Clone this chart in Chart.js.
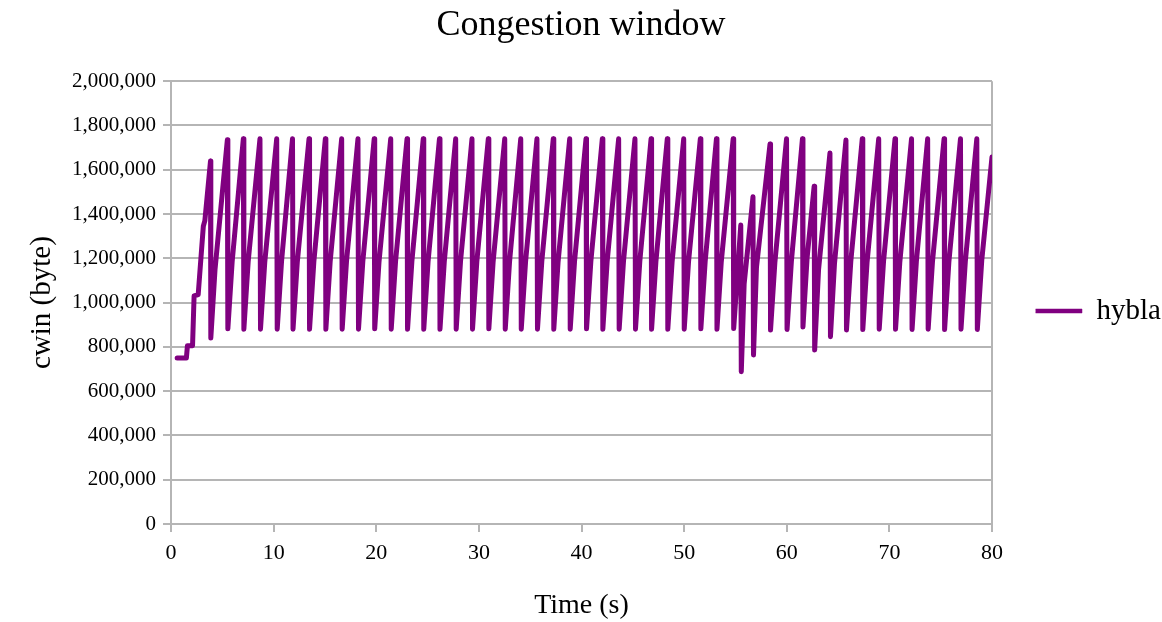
<!DOCTYPE html>
<html>
<head>
<meta charset="utf-8">
<script src="https://cdn.jsdelivr.net/npm/chart.js@4.4.1/dist/chart.umd.min.js"></script>
<style>
html,body{margin:0;padding:0;background:#fff}
#wrap{width:1162px;height:622px}
</style>
</head>
<body>
<div id="wrap"><canvas id="cwinChart"></canvas></div>
<script>
// time (s) and cwin (byte), one pair per vertex
const times=[
 0.6,1.5,1.6,2.1,2.25,2.65,3.15,3.3,3.85,3.88,4.29,
 5.49,5.54,5.96, 7.05,7.10,7.52, 8.67,8.72,9.14, 10.30,10.35,10.77,
 11.84,11.89,12.31, 13.45,13.50,13.92, 15.04,15.09,15.51, 16.63,16.68,17.10,
 18.22,18.27,18.69, 19.80,19.85,20.27, 21.41,21.46,21.88, 23.00,23.05,23.47,
 24.58,24.63,25.05, 26.16,26.21,26.63, 27.74,27.79,28.21, 29.33,29.38,29.80,
 30.92,30.97,31.39, 32.52,32.57,32.99, 34.08,34.13,34.55, 35.66,35.71,36.13,
 37.25,37.30,37.72, 38.85,38.90,39.32, 40.44,40.49,40.91, 42.03,42.08,42.50,
 43.62,43.67,44.09, 45.21,45.26,45.68, 46.78,46.83,47.25, 48.36,48.41,48.83,
 49.96,50.01,50.43, 51.58,51.63,52.05, 53.15,53.20,53.62, 54.78,54.83,
 55.52,55.57,55.85, 56.71,56.76,57.05, 58.37,58.42,58.84, 59.98,60.03,60.45,
 61.53,61.58,61.98, 62.67,62.72,63.10, 64.21,64.26,64.65, 65.77,65.82,66.24,
 67.36,67.41,67.83, 68.96,69.01,69.43, 70.55,70.60,71.02, 72.16,72.21,72.63,
 73.73,73.78,74.20, 75.33,75.38,75.80, 76.93,76.98,77.40, 78.52,78.57,79.00,
 80.00
];
const cwin=[
 750000,750000,805000,805000,1030000,1036000,1345000,1370000,1640000,840000,1150000,
 1735000,882000,1185000, 1740000,880000,1185000, 1740000,880000,1185000, 1740000,880000,1185000,
 1740000,880000,1185000, 1740000,880000,1185000, 1740000,880000,1185000, 1740000,880000,1185000,
 1740000,880000,1185000, 1740000,882000,1185000, 1740000,880000,1185000, 1740000,880000,1185000,
 1740000,880000,1185000, 1740000,880000,1185000, 1740000,880000,1185000, 1740000,880000,1185000,
 1740000,882000,1185000, 1740000,880000,1185000, 1740000,880000,1185000, 1740000,880000,1185000,
 1740000,880000,1185000, 1740000,880000,1185000, 1740000,882000,1185000, 1740000,880000,1185000,
 1740000,880000,1185000, 1740000,880000,1185000, 1740000,880000,1185000, 1740000,880000,1185000,
 1740000,880000,1185000, 1740000,882000,1185000, 1740000,880000,1185000, 1740000,883000,
 1350000,688000,1085000, 1478000,763000,1160000, 1716000,876000,1180000, 1740000,878000,1185000,
 1740000,890000,1200000, 1526000,786000,1150000, 1676000,846000,1175000, 1734000,876000,1185000,
 1740000,878000,1185000, 1740000,880000,1185000, 1740000,880000,1185000, 1740000,878000,1185000,
 1740000,880000,1185000, 1740000,878000,1185000, 1740000,880000,1185000, 1740000,878000,1190000,
 1658000
];
const seriesName='hybla';
const xTicks={min:0,max:80,step:10};
const yTicks={min:0,max:2000000,step:200000};

const GRID='#b5b5b5', PURPLE='#800080';
Chart.defaults.font.family="'Liberation Serif', serif";
Chart.defaults.color='#000';

new Chart(cwinChart,{
 type:'line',
 data:{datasets:[{
  label:seriesName,
  data:times.map((t,i)=>({x:t,y:cwin[i]})),
  borderColor:PURPLE,backgroundColor:PURPLE,
  borderWidth:5,pointRadius:0,tension:0,
  borderJoinStyle:'round',borderCapStyle:'round'
 }]},
 options:{
  responsive:true,maintainAspectRatio:false,animation:false,
  layout:{padding:0},
  plugins:{
   title:{display:true,text:'Congestion window',font:{size:36,weight:'normal'},padding:{top:4,bottom:34}},
   legend:{position:'right',maxWidth:170,labels:{
    boxWidth:46,boxHeight:4,padding:44,font:{size:29},
    generateLabels:c=>Chart.defaults.plugins.legend.labels.generateLabels(c).map(l=>Object.assign(l,{lineWidth:0.5}))
   }},
   tooltip:{enabled:false}
  },
  scales:{
   x:{type:'linear',min:xTicks.min,max:xTicks.max,
    ticks:{stepSize:xTicks.step,font:{size:22},padding:8},
    grid:{color:c=>c.tick&&c.tick.value===xTicks.max?GRID:'rgba(0,0,0,0)',tickColor:GRID,lineWidth:2,tickLength:8},
    border:{color:GRID,width:2},
    title:{display:true,text:'Time (s)',font:{size:28},padding:{top:0,bottom:0}},
    afterFit:s=>{s.height=98;s.paddingRight=170}
   },
   y:{min:yTicks.min,max:yTicks.max,
    ticks:{stepSize:yTicks.step,font:{size:21},padding:7,callback:v=>v.toLocaleString('en-US')},
    grid:{color:GRID,lineWidth:2,tickLength:8},
    border:{color:GRID,width:2},
    title:{display:true,text:'cwin (byte)',font:{size:29},padding:{top:25,bottom:0}},
    afterFit:s=>{s.width=171}
   }
  }
 }
});
</script>
</body>
</html>
